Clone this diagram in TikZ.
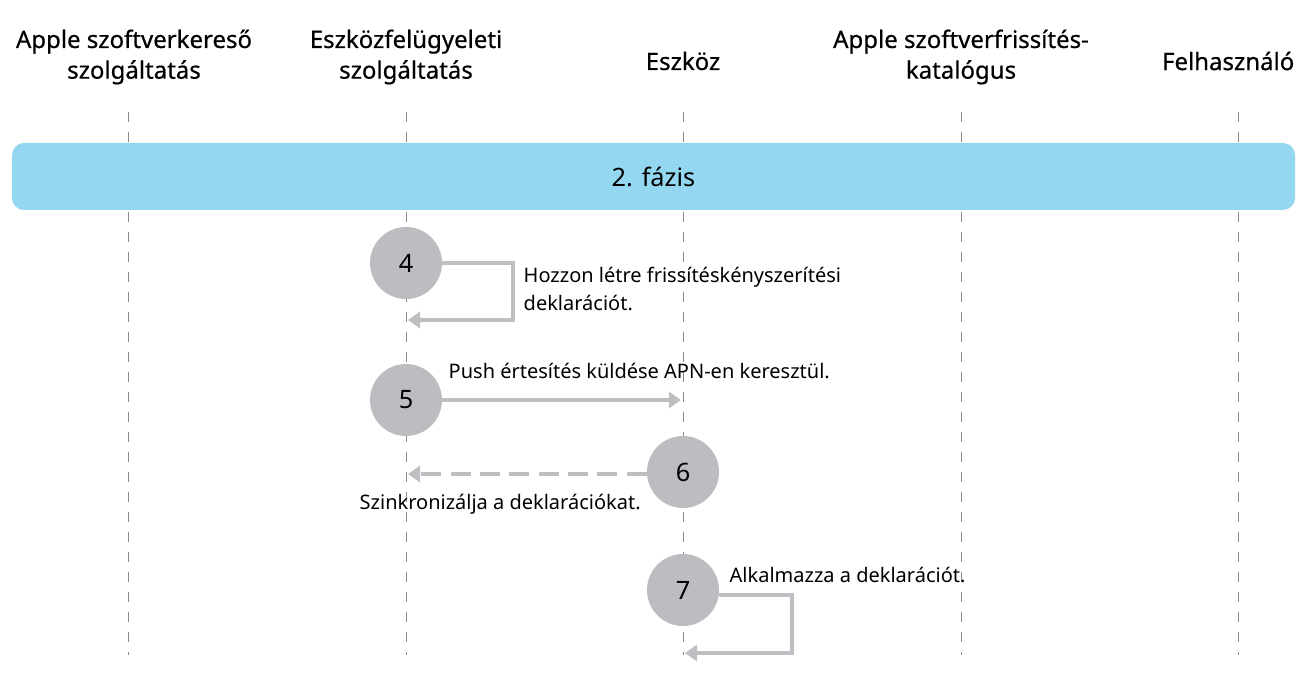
\documentclass[tikz,border=0pt]{standalone}
\usepackage{fontspec}
\setmainfont{Noto Sans}
\usetikzlibrary{arrows.meta}
\definecolor{bar}{HTML}{94D7F0}
\definecolor{circ}{HTML}{BBBDC0}
\definecolor{arr}{HTML}{BDBFC2}
\definecolor{life}{HTML}{8A8A8A}
\tikzset{
  hdr/.style={font=\fontsize{18}{23}\selectfont\addfontfeature{FakeBold=0.6}, align=center, text=black},
  lbl/.style={font=\fontsize{15}{21}\selectfont, align=left, text=black},
  stepcirc/.style={circle, fill=circ, minimum size=54pt, inner sep=0pt, font=\fontsize{19}{22}\selectfont},
  lifeline/.style={draw=life, dash pattern=on 7.5pt off 7.5pt, line width=0.75pt},
  msg/.style={draw=arr, line width=3pt, -{Triangle[length=9pt,width=12pt]}},
}
\begin{document}
\begin{tikzpicture}[x=0.75pt,y=-0.75pt]
\useasboundingbox (0,0) rectangle (1303,673);
\foreach \x/\n in {128/a,406/b,683/c,961/d,1238/e}{
  \coordinate (top\n) at (\x,112);
  \coordinate (bot\n) at (\x,655);
  \draw[lifeline] (top\n) -- (bot\n);
}
\node[hdr] (h1) at (134,57) {Apple szoftverkereső\\szolgáltatás};
\node[hdr] (h2) at (406,57) {Eszközfelügyeleti\\szolgáltatás};
\node[hdr] (h3) at (683,61) {Eszköz};
\node[hdr] (h4) at (961,57) {Apple szoftverfrissítés-\\katalógus};
\node[hdr, anchor=east] (h5) at (1299,61) {Felhasználó};
\node[fill=bar, rounded corners=9pt, minimum width=1283*0.75pt, minimum height=67*0.75pt, font=\fontsize{19}{22}\selectfont] (phase) at (653.5,176.5) {2. fázis};

\node[stepcirc] (s4) at (406,263) {4};
\node[stepcirc] (s5) at (406,400) {5};
\node[stepcirc] (s6) at (683,472) {6};
\node[stepcirc] (s7) at (683,590) {7};

\coordinate (e4) at (408,320);
\draw[msg] (s4.east) -- (513,263) -- (513,320) -- (e4);
\node[lbl, anchor=west] (t4) at (519,289) {Hozzon létre frissítéskényszerítési\\deklarációt.};

\coordinate (e5) at (681,400);
\draw[msg] (s5.east) -- (e5);
\node[lbl, anchor=west] (t5) at (444,371) {Push értesítés küldése APN-en keresztül.};

\coordinate (e6) at (408,474);
\draw[msg, dash pattern=on 15pt off 7pt] (s6.west |- 0,474) -- (e6);
\node[lbl, anchor=west] (t6) at (355,504) {Szinkronizálja a deklarációkat.};

\coordinate (e7) at (685,653);
\draw[msg] (719,595) -- (792,595) -- (792,653) -- (e7);
\node[lbl, anchor=west] (t7) at (725,575) {Alkalmazza a deklarációt.};
\end{tikzpicture}
\end{document}
